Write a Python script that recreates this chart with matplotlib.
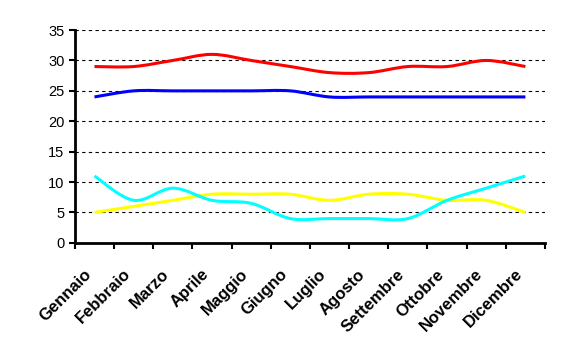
import matplotlib

matplotlib.use("Agg")
import matplotlib.pyplot as plt
import matplotlib.transforms as mtransforms
import numpy as np
from matplotlib.patches import PathPatch
from matplotlib.path import Path

months = [
    "Gennaio", "Febbraio", "Marzo", "Aprile", "Maggio", "Giugno",
    "Luglio", "Agosto", "Settembre", "Ottobre", "Novembre", "Dicembre",
]
red_values = [29, 29, 30, 31, 30, 29, 28, 28, 29, 29, 30, 29]
blue_values = [24, 25, 25, 25, 25, 25, 24, 24, 24, 24, 24, 24]
yellow_values = [5, 6, 7, 8, 8, 8, 7, 8, 8, 7, 7, 5]
cyan_values = [11, 7, 9, 7, 6.5, 4, 4, 4, 4, 7, 9, 11]
y_ticks = [0, 5, 10, 15, 20, 25, 30, 35]

plt.rcParams["font.family"] = ["Liberation Sans", "DejaVu Sans"]


def smooth_path(values):
    """Catmull-Rom style smoothed line as a cubic Bezier path in data coords."""
    pts = np.column_stack([np.arange(len(values)), np.asarray(values, float)])
    padded = np.vstack([pts[0], pts, pts[-1]])
    verts = [pts[0]]
    codes = [Path.MOVETO]
    for i in range(len(pts) - 1):
        p0, p1, p2, p3 = padded[i], padded[i + 1], padded[i + 2], padded[i + 3]
        verts += [p1 + (p2 - p0) / 6, p2 - (p3 - p1) / 6, p2]
        codes += [Path.CURVE4] * 3
    return Path(verts, codes)


fig = plt.figure(figsize=(5.63, 3.62), dpi=100)
ax = fig.add_axes([0.133, 0.329, 0.835, 0.588])

for values, color in [
    (red_values, "#ff0000"),
    (blue_values, "#0000ff"),
    (yellow_values, "#ffff00"),
    (cyan_values, "#00ffff"),
]:
    ax.add_patch(PathPatch(smooth_path(values), facecolor="none",
                           edgecolor=color, lw=2.2, capstyle="butt"))

ax.set_xlim(-0.5, len(months) - 0.5)
ax.set_ylim(0, 35)
ax.set_yticks(y_ticks)
ax.set_yticklabels([str(t) for t in y_ticks], fontsize=10.5)
for t in y_ticks[1:]:
    ax.axhline(t, color="black", lw=0.8, ls=(0, (3, 3)), zorder=0)

ax.set_xticks(np.arange(len(months) + 1) - 0.5)
ax.set_xticklabels([])
ax.set_xticks(np.arange(len(months)), minor=True)
ax.set_xticklabels(months, minor=True, rotation=45, ha="right",
                   rotation_mode="anchor", fontsize=12, fontweight="bold")
ax.tick_params(axis="x", which="minor", length=0, pad=17)
ax.tick_params(axis="both", which="major", length=4, width=1.5, direction="out")
shift = mtransforms.ScaledTranslation(-11 / 100, 0, fig.dpi_scale_trans)
for label in ax.get_xticklabels(minor=True):
    label.set_transform(label.get_transform() + shift)

for side in ["top", "right"]:
    ax.spines[side].set_visible(False)
for side in ["left", "bottom"]:
    ax.spines[side].set_linewidth(2)

fig.savefig("out.png", dpi=100)
